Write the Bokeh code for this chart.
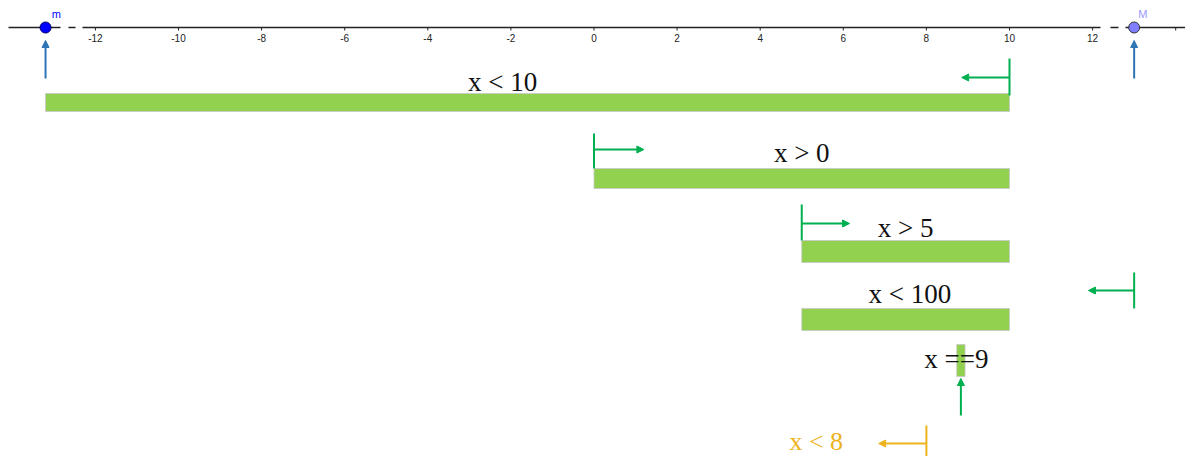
from bokeh.plotting import figure
from bokeh.models import Range1d, Arrow, NormalHead
from bokeh.core.properties import value
from bokeh.embed import file_html
from bokeh.resources import INLINE

# ---- data ----
m_val = -13.2
M_val = 13.0
tick_vals = [-12, -10, -8, -6, -4, -2, 0, 2, 4, 6, 8, 10, 12]
tick_labels = ["-12", "-10", "-8", "-6", "-4", "-2", "0", "2", "4", "6", "8", "10", "12"]
extra_ticks = [14]

conditions = ["x < 10", "x > 0", "x > 5", "x < 100", "x ==9", "x < 8"]
bound = [10, 0, 5, 100, 9, 8]
direction = ["left", "right", "right", "left", "point", "left"]
bar_start = [m_val, 0, 5, 5, 8.73, None]
bar_end = [10, 10, 10, 10, 8.93, None]

# ---- layout (pixel-like y coordinates, top = 0) ----
W, H = 1185, 456
x0_px, unit = 593.5, 41.55
p = figure(width=W, height=H, output_backend="svg", toolbar_location=None,
           x_range=Range1d(-x0_px / unit, (W - x0_px) / unit),
           y_range=Range1d(H, 0), min_border=0)
p.axis.visible = False
p.grid.visible = False
p.outline_line_color = None
p.background_fill_color = "white"

axis_y = 27
GREEN = "#92d050"
MARK = "#00b050"
BLUE = "#2e75b6"
ORANGE = "#ecb31f"
SERIF = value("Liberation Serif")

def px2x(px):
    return (px - x0_px) / unit

# axis line with GeoGebra-style breaks
segs = [(8, 60), (68, 75), (82, 1100), (1110, 1118), (1125, 1190)]
p.segment(x0=[px2x(a) for a, b in segs], x1=[px2x(b) for a, b in segs],
          y0=axis_y, y1=axis_y, line_color="#222222", line_width=1.5)
all_ticks = tick_vals + extra_ticks
p.segment(x0=all_ticks, x1=all_ticks, y0=axis_y, y1=axis_y + 3,
          line_color="#222222", line_width=1)
p.text(x=tick_vals, y=[axis_y + 10] * len(tick_vals), text=tick_labels,
       text_font=value("Liberation Sans"), text_font_size="10px",
       text_align="center", text_baseline="middle", text_color="#222222")

# blue arrows up to m and M
for v in (m_val, M_val):
    p.add_layout(Arrow(end=NormalHead(size=7, fill_color=BLUE, line_color=BLUE),
                       x_start=v, y_start=78, x_end=v, y_end=40,
                       line_color=BLUE, line_width=2))

# m and M points
p.scatter(x=[m_val], y=[axis_y], size=11, fill_color="#0000ff", line_color="#000066", line_width=1)
p.scatter(x=[M_val], y=[axis_y], size=11, fill_color="#7f7fff", line_color="#333333", line_width=1)
p.text(x=[m_val + 0.15], y=[13], text=["m"], text_font=value("Liberation Sans"),
       text_font_size="11px", text_color="#0000ff", text_baseline="middle")
p.text(x=[M_val + 0.1], y=[13], text=["M"], text_font=value("Liberation Sans"),
       text_font_size="11px", text_color="#9999ff", text_baseline="middle")

# rows: bar top/bottom, label pos, marker y range, arrow y
bar_top = [93, 168, 240, 308, 344, None]
bar_bot = [111, 188, 262, 330, 376, None]
label_x = [-2.2, 5.0, 7.5, 7.6, 8.72, 5.35]
label_y = [81, 152, 227, 293, 358, 441]
label_col = ["#111111"] * 5 + [ORANGE]
mark_y = [(58, 95), (133, 168), (204, 240), (272, 308), None, (425, 456)]
arrow_y = [77, 149, 223, 290, None, 443]
arrow_len = [1.15, 1.2, 1.15, 1.1, None, 1.15]

for i, cond in enumerate(conditions):
    if bar_start[i] is not None:
        p.quad(left=[bar_start[i]], right=[bar_end[i]], top=[bar_top[i]], bottom=[bar_bot[i]],
               fill_color=GREEN, line_color="#c8c8c8", line_width=0.8)
    p.text(x=[label_x[i]], y=[label_y[i]], text=[cond], text_font=SERIF,
           text_font_size="27px" if i < 5 else "26px", text_align="center",
           text_baseline="middle", text_color=label_col[i])
    col = ORANGE if i == 5 else MARK
    if direction[i] == "point":
        xc = (bar_start[i] + bar_end[i]) / 2
        p.add_layout(Arrow(end=NormalHead(size=7, fill_color=col, line_color=col),
                           x_start=xc, y_start=415, x_end=xc, y_end=378,
                           line_color=col, line_width=2))
        continue
    xm = min(max(bound[i], m_val), M_val)
    p.segment(x0=[xm], x1=[xm], y0=[mark_y[i][0]], y1=[mark_y[i][1]], line_color=col, line_width=2)
    sgn = -1 if direction[i] == "left" else 1
    p.add_layout(Arrow(end=NormalHead(size=7, fill_color=col, line_color=col),
                       x_start=xm, y_start=arrow_y[i], x_end=xm + sgn * arrow_len[i], y_end=arrow_y[i],
                       line_color=col, line_width=2))

open("out.html", "w").write(file_html(p, INLINE))
